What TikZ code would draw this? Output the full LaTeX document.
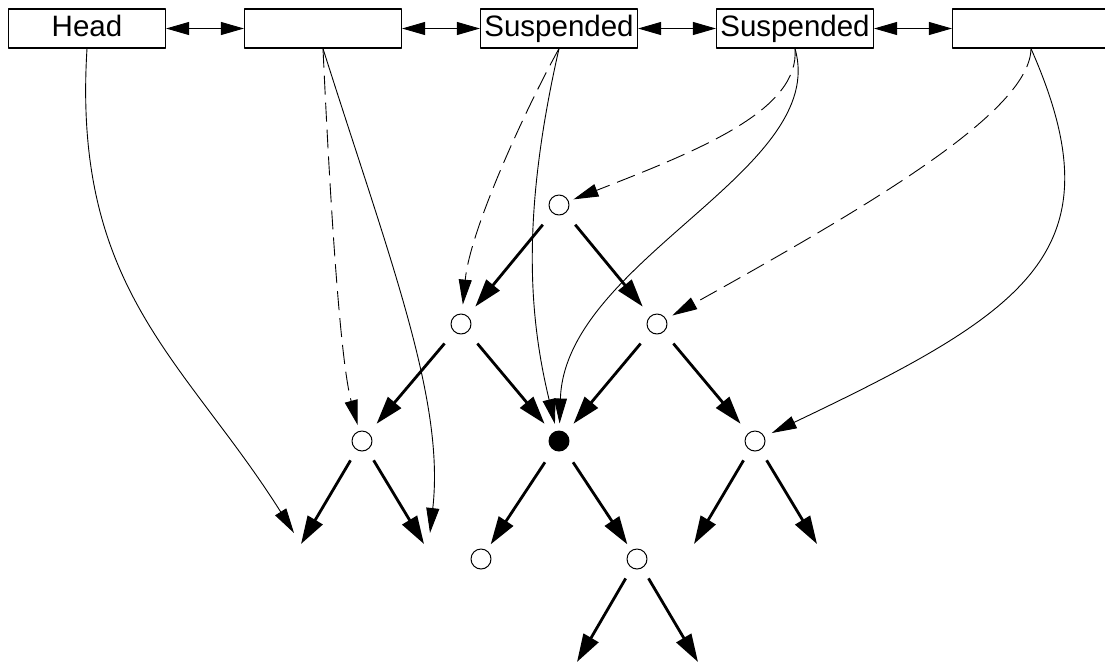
\documentclass[tikz,border=0pt]{standalone}
\usepackage{fontspec}
\setmainfont{Liberation Sans}
\usetikzlibrary{arrows.meta}
\newcommand{\Unit}{1pt}
\newcommand{\Thin}{0.9pt}
\newcommand{\Thick}{2.8pt}
\newcommand{\BoxStep}{236}
\definecolor{ink}{HTML}{000000}

\tikzset{
  cell/.style={draw=ink, line width=1.2pt, minimum width=157pt, minimum height=39pt,
    inner sep=0pt, text height=21pt, text depth=6pt, font=\fontsize{29.5}{34}\selectfont},
  dot/.style={circle, draw=ink, line width=1pt, minimum size=20pt, inner sep=0pt},
  link/.style={ink, line width=\Thin,
    {Triangle[length=23pt,width=13pt]}-{Triangle[length=23pt,width=13pt]}},
  branch/.style={ink, line width=\Thick, -{Triangle[length=28pt,width=17pt]}, shorten <=15pt},
  ptr/.style={ink, line width=\Thin, -{Triangle[length=25pt,width=13pt]}},
  weak/.style={ptr, dash pattern=on 19pt off 8pt},
}

\begin{document}
\begin{tikzpicture}[x=\Unit,y=-\Unit, line join=round]
  \useasboundingbox (0,0) rectangle (1105,665);

  % ---- the list along the top, linked both ways ---------------------------
  \foreach \i/\txt in {1/Head,2/,3/Suspended,4/Suspended,5/}
    \node[cell] (b\i) at ({87+\BoxStep*(\i-1)},28.5) {\txt};
  \foreach \i [evaluate=\i as \j using int(\i+1)] in {1,...,4}
    \draw[link] (b\i) -- (b\j);

  % ---- tree nodes ---------------------------------------------------------
  \node[dot] (root) at (559,205) {};
  \node[dot] (nl) at (461,324) {};
  \node[dot] (nr) at (657,324) {};
  \node[dot] (ll) at (362,441) {};
  \node[dot,fill=ink] (mid) at (559,441) {};
  \node[dot] (rr) at (755,441) {};
  \node[dot] (ml) at (481,559) {};
  \node[dot] (mr) at (637,559) {};

  % loose ends below the last row
  \coordinate (llA) at (301,544);
  \coordinate (llB) at (424,544);
  \coordinate (rrA) at (694,544);
  \coordinate (rrB) at (817,544);
  \coordinate (mrA) at (577,662);
  \coordinate (mrB) at (698,662);
  \coordinate (hdEnd) at (294,533);
  \coordinate (upEnd) at (430,533);

  % ---- tree edges ---------------------------------------------------------
  \foreach \a/\b in {root/nl,root/nr,nl/ll,nl/mid,nr/mid,nr/rr}
    \draw[branch, shorten >=12pt] (\a) -- (\b);
  \foreach \a/\b in {mid/ml,mid/mr}
    \draw[branch, shorten >=7pt] (\a) -- (\b);
  \foreach \a/\b in {ll/llA,ll/llB,rr/rrA,rr/rrB,mr/mrA,mr/mrB}
    \draw[branch, shorten <=12pt] (\a) -- (\b);

  % ---- pointers from the list into the tree -------------------------------
  \draw[ptr] (b1.south) .. controls (72,290) and (185,360) .. (hdEnd);
  \draw[weak, shorten >=6pt] (b2.south) .. controls (330,200) and (340,360) .. (ll);
  \draw[ptr] (b2.south) .. controls (390,260) and (445,400) .. (upEnd);
  \draw[weak, shorten >=9pt] (b3.south) .. controls (525,110) and (470,230) .. (nl);
  \draw[ptr, shorten >=7pt] (b3.south) .. controls (520,220) and (530,320) .. (mid);
  \draw[weak, shorten >=5pt] (b4.south) .. controls (800,110) and (700,150) .. (root);
  \draw[ptr, shorten >=7pt] (b4.south) .. controls (830,170) and (565,260) .. (mid);
  \draw[weak, shorten >=7pt] (b5.south) .. controls (1030,110) and (880,200) .. (nr);
  \draw[ptr, shorten >=8pt] (b5.south) .. controls (1120,250) and (1030,310) .. (rr);

\end{tikzpicture}
\end{document}
